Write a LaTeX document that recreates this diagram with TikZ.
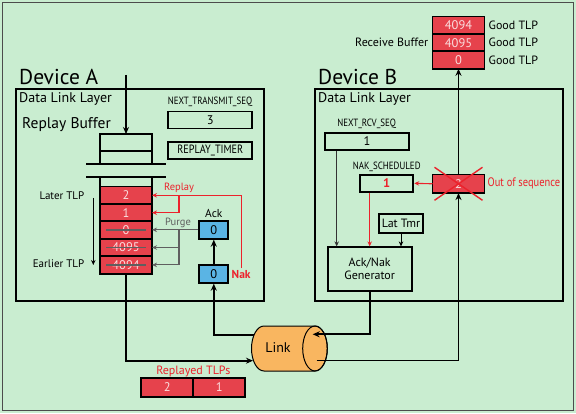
\documentclass[tikz,border=0pt]{standalone}
\usepackage{fontspec}
\setmainfont{PT Sans}
\newfontfamily\narrowfont{PT Sans}[FakeStretch=0.85]
\usetikzlibrary{positioning,arrows.meta,calc}
\definecolor{bggreen}{RGB}{201,237,208}
\definecolor{tlpred}{RGB}{230,66,76}
\definecolor{tlptext}{RGB}{250,222,222}
\definecolor{ackblue}{RGB}{90,180,228}
\definecolor{linkorange}{RGB}{249,182,96}
\definecolor{alarmred}{RGB}{236,34,44}
\definecolor{purgegray}{RGB}{95,95,95}
\newcommand\fsz[1]{\fontsize{#1}{#1}\selectfont}
\tikzset{
  dll/.style={draw,line width=2pt,minimum width=248pt,minimum height=212pt,inner sep=0pt,outer sep=0pt},
  tlp/.style={draw,line width=1.8pt,fill=tlpred,text=tlptext,minimum width=52pt,
    minimum height=17.4pt,inner sep=0pt,outer sep=0pt,font=\fsz{12.5}},
  reg/.style={draw,line width=1.8pt,minimum width=84pt,minimum height=17pt,inner sep=0pt,font=\fsz{12.5}},
  seq/.style={draw,line width=1.8pt,fill=ackblue,minimum width=29pt,minimum height=18pt,inner sep=0pt,font=\fsz{12.5}},
  caps/.style={inner sep=0pt,font=\narrowfont\fsz{10.5}},
  lbl/.style={inner sep=0pt,font=\fsz{11}},
  flow/.style={-{Stealth[length=7pt,width=6pt]},line width=1.8pt},
  feed/.style={-{Stealth[length=5pt,width=4.5pt]},line width=1.1pt},
  replay/.style={feed,draw=alarmred},
  purge/.style={feed,draw=purgegray},
  strike/.style={draw=purgegray,line width=1.3pt}
}
\begin{document}
\begin{tikzpicture}[x=1pt,y=1pt]
\fill[bggreen] (0,0) rectangle (576,413);
\draw[line width=1.2pt,black!70] (2.5,2.5) rectangle (573.5,410.5);
% device A
\node[dll] (dllA) at (140,218) {};
\node[anchor=base west,inner sep=0pt,font=\fsz{21.5}] at ([xshift=3pt,yshift=4pt]dllA.north west) {Device A};
\node[anchor=base west,inner sep=0pt,font=\fsz{14}] at ([xshift=3pt,yshift=-13.7pt]dllA.north west) {Data Link Layer};
\node[anchor=base west,inner sep=0pt,font=\fsz{15.5}] at (22,284.7) {Replay Buffer};
\node[caps] at (210,311) {NEXT\_TRANSMIT\_SEQ};
\node[reg] (nts) at (210.3,293) {3};
\node[reg,font=\narrowfont\fsz{12}] (timer) at (210.3,262.7) {REPLAY\_TIMER};
\node[draw,line width=1.8pt,minimum width=52pt,minimum height=30pt,inner sep=0pt,outer sep=0pt] (slot) at (126,264) {};
\draw[line width=1.8pt] (slot.west |- 0,262) -- (slot.east |- 0,262);
\draw[line width=1.8pt] (86,249) -- (166,249) (86,236) -- (166,236);
\node[tlp] (c2) at (126,217.7) {2};
\node[tlp,below=0pt of c2] (c1) {1};
\node[tlp,below=0pt of c1] (c0) {0};
\node[tlp,below=0pt of c0] (c4095) {4095};
\node[tlp,below=0pt of c4095] (c4094) {4094};
\draw[line width=1.8pt] (c2.north west |- 0,236) -- (c2.north west) (c2.north east |- 0,236) -- (c2.north east);
\foreach \c in {c0,c4095,c4094}
  \draw[strike] ([xshift=-20pt]\c.center) -- ([xshift=20pt]\c.center);
\coordinate (feedin) at (126,338);
\draw[flow] (feedin) -- (slot.north);
\node[lbl,anchor=east] (later) at (84.5,217) {Later TLP};
\node[lbl,anchor=east] (earlier) at (84.5,149.7) {Earlier TLP};
\coordinate (newer) at (93.3,215);
\coordinate (older) at (93.3,148);
\draw[feed] (newer) -- (older);
\node[seq] (ackT) at (213.8,183.2) {0};
\node[seq] (ackB) at (213.8,139.2) {0};
\node[lbl,above=2pt of ackT,font=\fsz{11.5}] {Ack};
\node[lbl,anchor=west,inner sep=1.5pt,text=alarmred,font=\bfseries\fsz{11.5}] (nak) at (230,139) {Nak};
\draw[flow] (ackB.north) -- (ackT.south);
\coordinate (fork) at (179,200);
\node[lbl,text=alarmred,font=\fsz{10.5}] at (179,225) {Replay};
\node[lbl,text=purgegray,font=\fsz{10.5}] at (178,190.3) {Purge};
\draw[replay] (nak.north) |- (c2.east);
\draw[replay] (fork |- c2.east) |- (c1.east);
\draw[purge] (ackT.west) -- (ackT.west -| c0.east);
\draw[purge] (fork |- ackT.west) |- (c4095.east);
\draw[purge] (fork |- ackT.west) |- (c4094.east);
% device B
\node[dll] (dllB) at (439,218) {};
\node[anchor=base west,inner sep=0pt,font=\fsz{21.5}] at ([xshift=3pt,yshift=4pt]dllB.north west) {Device B};
\node[anchor=base west,inner sep=0pt,font=\fsz{14}] at ([xshift=3pt,yshift=-13.7pt]dllB.north west) {Data Link Layer};
\node[caps] at (366.7,289) {NEXT\_RCV\_SEQ};
\node[reg] (nrs) at (367,271.7) {1};
\node[caps] at (386.7,246.3) {NAK\_SCHEDULED};
\node[reg,minimum width=53.3pt,text=alarmred,font=\bfseries\fsz{12.5}] (naks) at (386.7,229.7) {1};
\node[tlp,minimum height=18.5pt] (bad) at (458.5,229.2) {2};
\draw[alarmred,line width=1.4pt] ($(bad.center)+(-24,16.5)$) -- ($(bad.center)+(24,-16.5)$)
  ($(bad.center)+(24,16.5)$) -- ($(bad.center)+(-24,-16.5)$);
\node[lbl,anchor=west,text=alarmred,font=\narrowfont\fsz{12.3}] at (487.5,229.7) {Out of sequence};
\node[reg,minimum width=43.4pt,minimum height=18.4pt,font=\fsz{12}] (lat) at (401,189.5) {Lat Tmr};
\node[reg,minimum height=43.4pt,align=center,font=\fsz{12}] (gen) at (369.7,144) {Ack/Nak\\[1pt]Generator};
\coordinate (rcvx) at (336.7,0);
\draw[feed,line width=0.9pt,black!80] (nrs.south -| rcvx) -- (gen.north -| rcvx);
\draw[replay,line width=0.9pt] (naks.south -| gen.north) -- (gen.north);
\draw[feed,line width=0.9pt] (lat.south) -- (lat.south |- gen.north);
\draw[replay] (bad.west) -- (naks.east);
\node[tlp] (rb4094) at (458.5,387.7) {4094};
\node[tlp,below=0pt of rb4094] (rb4095) {4095};
\node[tlp,below=0pt of rb4095] (rb0) {0};
\node[lbl,anchor=east,font=\fsz{12}] at ([xshift=-4pt]rb4095.west) {Receive Buffer};
\foreach \r in {rb4094,rb4095,rb0}
  \node[lbl,anchor=west,font=\fsz{12}] at ([xshift=4pt]\r.east) {Good TLP};
\draw[flow] (bad.north) -- (rb0.south);
% link
\filldraw[fill=linkorange,line width=1pt] (264,87) -- (315,87) arc[start angle=90,end angle=-90,x radius=12.3,y radius=22.5]
  -- (264,42) arc[start angle=270,end angle=90,x radius=12.5,y radius=22.5] -- cycle;
\draw[line width=1pt] (315,64.5) ellipse[x radius=12.3,y radius=22.5];
\node[font=\fsz{14}] (link) at (278,65) {Link};
\coordinate (linkin) at (253,52.3);
\coordinate (linkout) at (316.7,52.5);
\coordinate (linkrx) at (312.7,78.7);
\coordinate (linktx) at (254,78);
\draw[flow] (c4094.south) |- (linkin);
\draw[flow] (linktx) -| (ackB.south);
\draw[flow] (gen.south) |- (linkrx);
\draw[flow] (linkout) -| (bad.south);
\node[lbl,text=alarmred,font=\fsz{12}] at (193.3,41.3) {Replayed TLPs};
\node[tlp,minimum height=18.4pt] (rp2) at (167.2,25.5) {2};
\node[tlp,minimum height=18.4pt,right=0pt of rp2] (rp1) {1};
\end{tikzpicture}
\end{document}
